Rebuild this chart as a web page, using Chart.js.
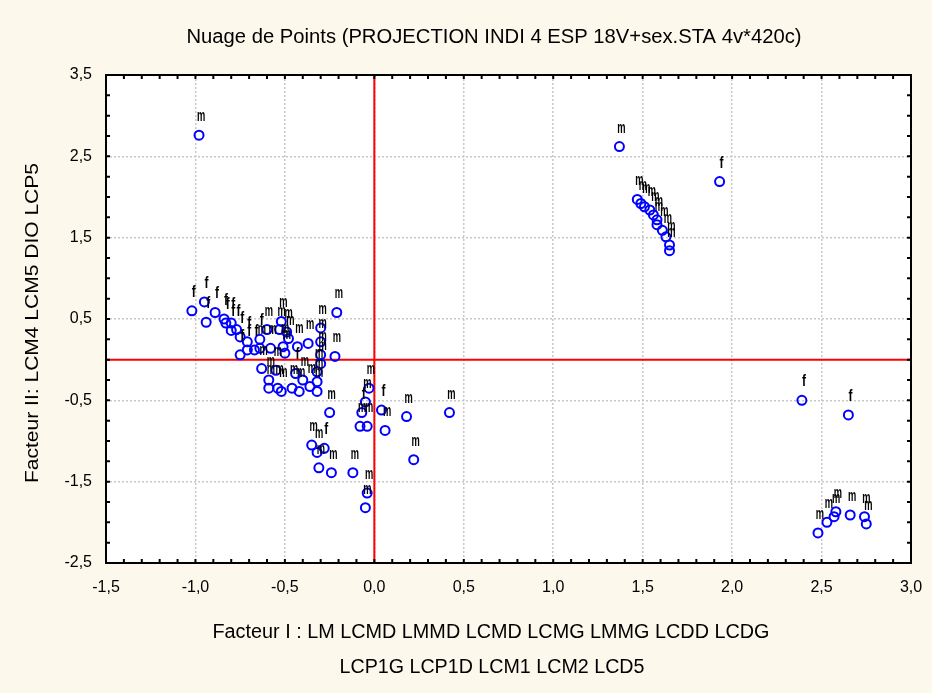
<!DOCTYPE html>
<html>
<head>
<meta charset="utf-8">
<script src="https://cdn.jsdelivr.net/npm/chart.js@4.4.0/dist/chart.umd.min.js"></script>
<style>
  body { margin: 0; background: #fcf8ec; }
  #wrap { width: 932px; height: 693px; }
</style>
</head>
<body>
<div id="wrap"><canvas id="nuage"></canvas></div>
<script>
// coordonnées des individus sur les facteurs I et II
const factor1 = [
  -1.02, -0.95, -0.94, -0.89, -0.84, -0.83, -0.80, -0.80, -0.77, -0.75,
  -0.71, -0.75, -0.71, -0.67, -0.64, -0.64, -0.60, -0.58, -0.63, -0.59,
  -0.59, -0.55, -0.54, -0.52, -0.53, -0.52, -0.51, -0.49, -0.48, -0.50,
  -0.46, -0.42, -0.44, -0.40, -0.43, -0.37, -0.30, -0.30, -0.30, -0.30,
  -0.32, -0.32, -0.32, -0.36, -0.21, -0.22, -0.03, -0.05, -0.25, -0.07,
  -0.08, -0.04, 0.04, 0.06, 0.18, 0.42, 0.22, -0.35, -0.32, -0.28,
  -0.31, -0.24, -0.12, -0.04, -0.05, -0.98,
  1.37, 1.93, 1.47, 1.49, 1.51, 1.54, 1.56, 1.58, 1.58, 1.61,
  1.63, 1.65, 1.65, 2.39, 2.65, 2.48, 2.53, 2.57, 2.58, 2.66,
  2.74, 2.75
];
const factor2 = [
  0.60, 0.71, 0.46, 0.58, 0.50, 0.45, 0.45, 0.36, 0.37, 0.28,
  0.22, 0.06, 0.12, 0.12, 0.14, 0.25, 0.37, 0.14, -0.11, -0.25,
  -0.35, -0.13, -0.35, -0.39, 0.37, 0.47, 0.16, 0.34, 0.26, 0.08,
  -0.35, -0.39, -0.17, -0.25, 0.16, 0.20, 0.39, 0.22, 0.06, -0.05,
  -0.15, -0.27, -0.39, -0.33, 0.58, 0.04, -0.35, -0.52, -0.65, -0.65,
  -0.82, -0.82, -0.62, -0.87, -0.70, -0.65, -1.23, -1.05, -1.14, -1.09,
  -1.33, -1.39, -1.39, -1.64, -1.82, 2.76,
  2.62, 2.19, 1.97, 1.92, 1.88, 1.84, 1.78, 1.72, 1.66, 1.59,
  1.51, 1.41, 1.34, -0.50, -0.68, -2.13, -2.00, -1.93, -1.87, -1.91,
  -1.93, -2.02
];
const sexe = [
  'f', 'f', 'f', 'f', 'f', 'f', 'f', 'f', 'f', 'f',
  'f', 'f', 'f', 'f', 'm', 'f', 'm', 'm', 'm', 'm',
  'm', 'm', 'm', 'm', 'm', 'm', 'm', 'm', 'm', 'm',
  'm', 'm', 'f', 'm', 'm', 'm', 'm', 'm', 'm', 'm',
  'm', 'm', 'm', 'm', 'm', 'm', 'm', 'm', 'm', 'f',
  'm', 'm', 'f', 'm', 'm', 'm', 'm', 'm', 'm', 'f',
  'm', 'm', 'm', 'm', 'm', 'm',
  'm', 'f', 'm', 'm', 'm', 'm', 'm', 'm', 'm', 'm',
  'm', 'm', 'm', 'f', 'f', 'm', 'm', 'm', 'm', 'm',
  'm', 'm'
];

const xTicks = [-1.5, -1, -0.5, 0, 0.5, 1, 1.5, 2, 2.5, 3];
const xTickLabels = ['-1,5', '-1,0', '-0,5', '0,0', '0,5', '1,0', '1,5', '2,0', '2,5', '3,0'];
const yTicks = [-2.5, -1.5, -0.5, 0.5, 1.5, 2.5, 3.5];
const yTickLabels = ['-2,5', '-1,5', '-0,5', '0,5', '1,5', '2,5', '3,5'];

const titre = 'Nuage de Points (PROJECTION INDI 4 ESP 18V+sex.STA 4v*420c)';
const titreX = ['Facteur I : LM LCMD LMMD LCMD LCMG LMMG LCDD LCDG', 'LCP1G LCP1D LCM1 LCM2 LCD5'];
const titreY = 'Facteur II: LCM4 LCM5 DIO LCP5';

// texte centré, serré pour tenir dans une largeur donnée
function texteAjuste(ctx, txt, x, y, largeur, taille, angle) {
  ctx.save();
  ctx.font = taille + 'px "Liberation Sans", Arial, sans-serif';
  const w = ctx.measureText(txt).width;
  ctx.translate(x, y);
  if (angle) ctx.rotate(angle);
  ctx.scale(largeur / w, 1);
  ctx.textAlign = 'center';
  ctx.textBaseline = 'middle';
  ctx.fillStyle = '#000';
  ctx.fillText(txt, 0, 0);
  ctx.restore();
}

const decor = {
  id: 'decor',
  beforeDraw(chart) {
    const { ctx, chartArea: a } = chart;
    ctx.save();
    ctx.fillStyle = '#fff';
    ctx.fillRect(a.left, a.top, a.right - a.left, a.bottom - a.top);
    ctx.restore();
  },
  beforeDatasetsDraw(chart) {
    // axes rouges en 0
    const { ctx, chartArea: a, scales: { x, y } } = chart;
    const x0 = x.getPixelForValue(0);
    const y0 = y.getPixelForValue(0);
    ctx.save();
    ctx.strokeStyle = '#ff0000';
    ctx.lineWidth = 2;
    ctx.beginPath();
    ctx.moveTo(x0, a.top); ctx.lineTo(x0, a.bottom);
    ctx.moveTo(a.left, y0); ctx.lineTo(a.right, y0);
    ctx.stroke();
    ctx.restore();
  },
  afterDatasetsDraw(chart) {
    // lettre du sexe au-dessus de chaque point
    const { ctx } = chart;
    const pts = chart.getDatasetMeta(0).data;
    ctx.save();
    ctx.fillStyle = '#000';
    ctx.font = 'bold 15px "Liberation Sans", Arial, sans-serif';
    ctx.textAlign = 'center';
    ctx.textBaseline = 'alphabetic';
    pts.forEach((p, i) => {
      ctx.save();
      ctx.translate(p.x + 2, p.y - 14);
      ctx.scale(sexe[i] === 'm' ? 0.62 : 0.8, 1.05);
      ctx.fillText(sexe[i], 0, 0);
      ctx.restore();
    });
    ctx.restore();
  },
  afterDraw(chart) {
    const { ctx, chartArea: a, scales: { x, y } } = chart;
    ctx.save();
    ctx.strokeStyle = '#000';
    ctx.lineWidth = 2;
    ctx.strokeRect(a.left, a.top, a.right - a.left, a.bottom - a.top);
    // petites graduations vers l'intérieur du cadre
    ctx.beginPath();
    for (let k = 0; k <= 45; k++) {
      const px = x.getPixelForValue(-1.5 + k * 0.1);
      ctx.moveTo(px, a.bottom); ctx.lineTo(px, a.bottom - 4);
      ctx.moveTo(px, a.top); ctx.lineTo(px, a.top + 4);
    }
    for (let k = 0; k <= 24; k++) {
      const py = y.getPixelForValue(-2.5 + k * 0.25);
      ctx.moveTo(a.left, py); ctx.lineTo(a.left + 4, py);
      ctx.moveTo(a.right, py); ctx.lineTo(a.right - 4, py);
    }
    ctx.stroke();
    ctx.restore();

    texteAjuste(ctx, titre, 494, 37, 615, 20);
    texteAjuste(ctx, titreX[0], 491, 632, 557, 20);
    texteAjuste(ctx, titreX[1], 492, 667, 305, 20);
    texteAjuste(ctx, titreY, 33, 323, 320, 18, -Math.PI / 2);
  }
};

const tickFont = { family: '"Liberation Sans", Arial, sans-serif', size: 16 };

new Chart(document.getElementById('nuage'), {
  type: 'scatter',
  data: {
    datasets: [{
      data: factor1.map((v, i) => ({ x: v, y: factor2[i] })),
      pointRadius: 4.5,
      pointBorderWidth: 2,
      pointBorderColor: '#0000ff',
      pointBackgroundColor: 'rgba(0,0,0,0)'
    }]
  },
  options: {
    responsive: true,
    maintainAspectRatio: false,
    devicePixelRatio: 1,
    animation: false,
    layout: { autoPadding: false, padding: { left: 0, top: 75, right: 21, bottom: 0 } },
    plugins: { legend: { display: false }, tooltip: { enabled: false } },
    scales: {
      x: {
        type: 'linear',
        min: -1.5,
        max: 3,
        afterBuildTicks: s => { s.ticks = xTicks.map(v => ({ value: v })); },
        afterFit: s => { s.height = 130; s.paddingLeft = 0; s.paddingRight = 0; },
        ticks: {
          color: '#000',
          font: tickFont,
          padding: 15,
          maxRotation: 0,
          autoSkip: false,
          callback: (v, i) => xTickLabels[i]
        },
        grid: { color: '#c8c8c8', lineWidth: 1.5, drawTicks: false },
        border: { display: false, dash: [2, 2] }
      },
      y: {
        type: 'linear',
        min: -2.5,
        max: 3.5,
        afterBuildTicks: s => { s.ticks = yTicks.map(v => ({ value: v })); },
        afterFit: s => { s.width = 106; s.paddingTop = 0; s.paddingBottom = 0; },
        ticks: {
          color: '#000',
          font: tickFont,
          padding: 14,
          autoSkip: false,
          callback: (v, i) => yTickLabels[i]
        },
        grid: { color: '#c8c8c8', lineWidth: 1.5, drawTicks: false },
        border: { display: false, dash: [2, 2] }
      }
    }
  },
  plugins: [decor]
});
</script>
</body>
</html>
